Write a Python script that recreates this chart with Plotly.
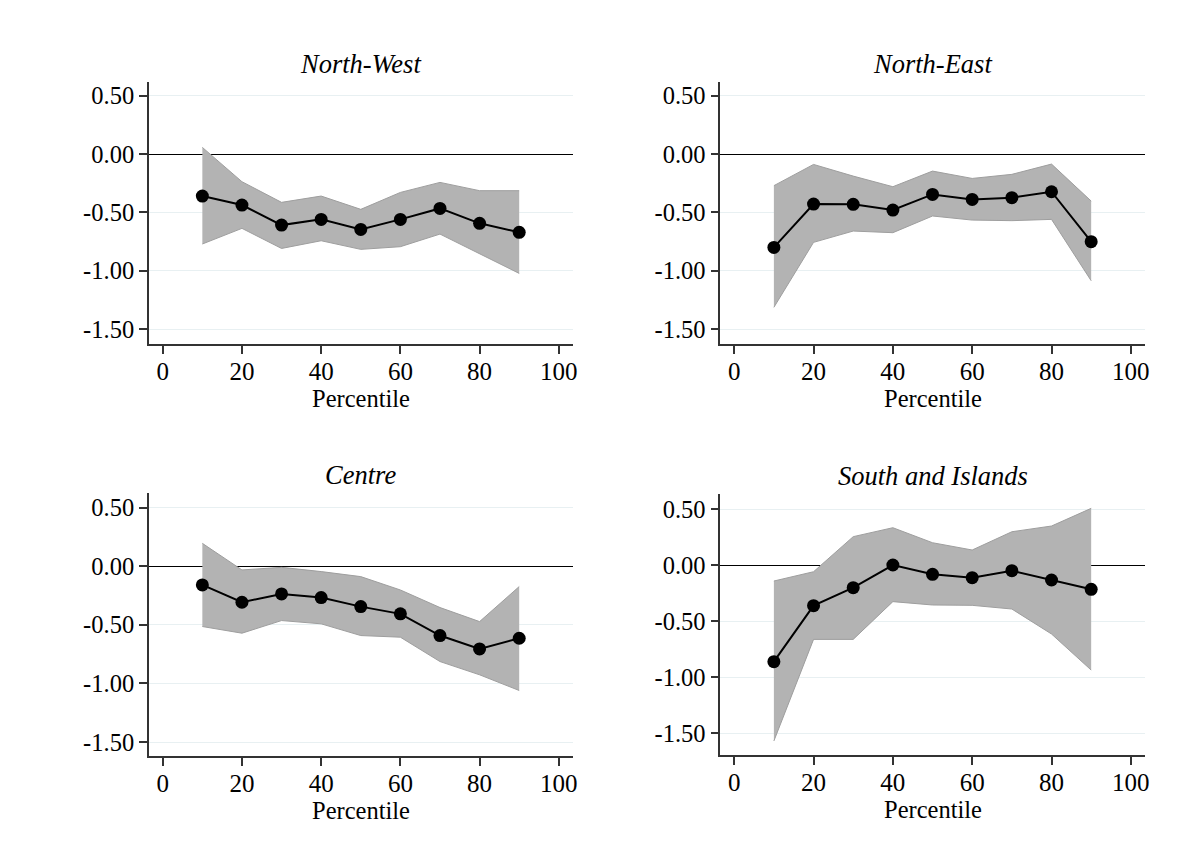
import plotly.graph_objects as go

percentiles = [10, 20, 30, 40, 50, 60, 70, 80, 90]

regions = ["North-West", "North-East", "Centre", "South and Islands"]

nw_coef = [-0.36, -0.437, -0.609, -0.56, -0.646, -0.56, -0.466, -0.594, -0.671]
nw_upper = [0.057, -0.237, -0.414, -0.36, -0.474, -0.329, -0.243, -0.314, -0.314]
nw_lower = [-0.771, -0.637, -0.809, -0.743, -0.817, -0.794, -0.686, -0.853, -1.023]

ne_coef = [-0.80, -0.429, -0.431, -0.48, -0.346, -0.389, -0.374, -0.323, -0.751]
ne_upper = [-0.271, -0.089, -0.189, -0.28, -0.146, -0.209, -0.174, -0.086, -0.403]
ne_lower = [-1.314, -0.757, -0.66, -0.674, -0.531, -0.566, -0.571, -0.56, -1.086]

ce_coef = [-0.159, -0.307, -0.236, -0.267, -0.344, -0.406, -0.591, -0.705, -0.614]
ce_upper = [0.196, -0.031, -0.009, -0.045, -0.088, -0.202, -0.352, -0.472, -0.173]
ce_lower = [-0.514, -0.571, -0.463, -0.491, -0.591, -0.605, -0.813, -0.926, -1.06]

si_coef = [-0.86, -0.36, -0.199, 0.003, -0.08, -0.11, -0.048, -0.131, -0.214]
si_upper = [-0.14, -0.057, 0.256, 0.336, 0.202, 0.137, 0.30, 0.351, 0.509]
si_lower = [-1.568, -0.661, -0.661, -0.324, -0.354, -0.357, -0.39, -0.613, -0.935]

coefs = [nw_coef, ne_coef, ce_coef, si_coef]
uppers = [nw_upper, ne_upper, ce_upper, si_upper]
lowers = [nw_lower, ne_lower, ce_lower, si_lower]

y_tick_vals = [0.5, 0.0, -0.5, -1.0, -1.5]
y_tick_labels = ["0.50", "0.00", "-0.50", "-1.00", "-1.50"]
x_tick_vals = [0, 20, 40, 60, 80, 100]
x_title = "Percentile"

W, H = 1185, 863
# panel pixel boxes (left, right, top, bottom)
boxes = [
    (149.3, 575.0, 81.7, 344.0),
    (722.7, 1149.0, 81.7, 344.0),
    (149.3, 575.0, 493.3, 756.0),
    (722.7, 1149.0, 494.0, 755.3),
]
y_ranges = [(-1.628, 0.62), (-1.628, 0.62), (-1.619, 0.623), (-1.696, 0.637)]
x_range = (-3.52, 103.6)

FONT = "Liberation Serif"
band_fill = "rgb(179,179,179)"
band_edge = "rgb(158,158,158)"
grid_col = "#e8f0f2"
axis_col = "#333333"

fig = go.Figure()
layout = dict(
    width=W, height=H,
    margin=dict(l=0, r=0, t=0, b=0),
    paper_bgcolor="white", plot_bgcolor="white",
    showlegend=False,
    font=dict(family=FONT, size=24, color="black"),
)
annotations = []
for i in range(4):
    xa = "x" if i == 0 else f"x{i+1}"
    ya = "y" if i == 0 else f"y{i+1}"
    l, r, t, b = boxes[i]
    layout[f"xaxis{'' if i == 0 else i+1}"] = dict(
        domain=[l / W, r / W], anchor=ya, range=list(x_range),
        tickmode="array", tickvals=x_tick_vals,
        ticks="outside", ticklen=8, tickwidth=1.5, tickcolor=axis_col,
        showline=True, linecolor=axis_col, linewidth=1.5,
        showgrid=False, zeroline=False,
        tickfont=dict(family=FONT, size=25, color="black"),
        ticklabelstandoff=-4,
    )
    layout[f"yaxis{'' if i == 0 else i+1}"] = dict(
        domain=[1 - b / H, 1 - t / H], anchor=xa, range=list(y_ranges[i]),
        tickmode="array", tickvals=y_tick_vals, ticktext=y_tick_labels,
        ticks="outside", ticklen=8, tickwidth=1.5, tickcolor=axis_col,
        showline=True, linecolor=axis_col, linewidth=1.5,
        showgrid=True, gridcolor=grid_col, gridwidth=1,
        zeroline=True, zerolinecolor="black", zerolinewidth=1.2,
        tickfont=dict(family=FONT, size=24.5, color="black"),
    )
    fig.add_trace(go.Scatter(
        x=percentiles, y=uppers[i], xaxis=xa, yaxis=ya, mode="lines",
        line=dict(color=band_edge, width=1), hoverinfo="skip"))
    fig.add_trace(go.Scatter(
        x=percentiles, y=lowers[i], xaxis=xa, yaxis=ya, mode="lines",
        line=dict(color=band_edge, width=1), fill="tonexty", fillcolor=band_fill,
        hoverinfo="skip"))
    fig.add_trace(go.Scatter(
        x=percentiles, y=coefs[i], xaxis=xa, yaxis=ya, mode="lines+markers",
        line=dict(color="black", width=2),
        marker=dict(color="black", size=13)))
    annotations.append(dict(
        text=f"<i>{regions[i]}</i>", xref="paper", yref="paper",
        x=(l + r) / 2 / W, y=1 - (t - 18) / H,
        xanchor="center", yanchor="middle", showarrow=False,
        font=dict(family=FONT, size=26.5, color="black")))
    annotations.append(dict(
        text=x_title, xref="paper", yref="paper",
        x=(l + r) / 2 / W, y=1 - (b + 54) / H,
        xanchor="center", yanchor="middle", showarrow=False,
        font=dict(family=FONT, size=24.5, color="black")))
layout["annotations"] = annotations
fig.update_layout(**layout)
fig.write_html("out.html")
